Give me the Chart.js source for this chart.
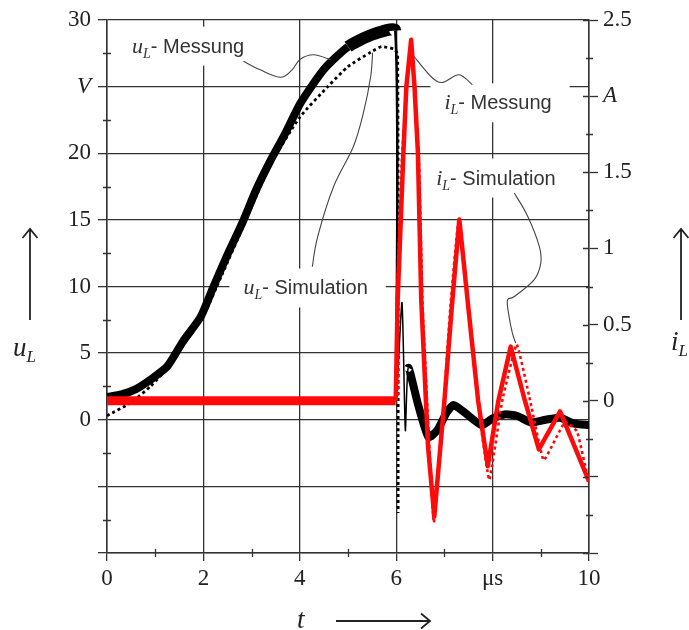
<!DOCTYPE html>
<html><head><meta charset="utf-8">
<script src="https://cdn.jsdelivr.net/npm/chart.js@4.4.1/dist/chart.umd.min.js"></script>
<style>html,body{margin:0;padding:0;background:#fff}canvas{display:block}</style>
</head><body>
<canvas id="c" width="689" height="630"></canvas>
<script>
// ---- data (time in µs) ----
// u_L measured (V, left axis)
const uMeasT = [0, 0.3, 0.6, 0.9, 1.25, 1.58, 1.94, 2.21, 2.5, 2.81, 3.1, 3.4, 3.7, 4.02, 4.5, 5.0, 5.5, 5.98, 6.01, 6.12, 6.19, 6.25, 6.45, 6.67, 6.85, 7.04, 7.19, 7.4, 7.77, 8.0, 8.25, 8.5, 8.8, 9.1, 9.4, 9.7, 10];
const uMeasV = [1.7, 1.9, 2.3, 3.0, 4.0, 5.9, 7.7, 10.0, 12.4, 14.8, 17.3, 19.5, 21.5, 23.8, 26.3, 28.0, 28.9, 29.2, 2.3, 8.8, -0.8, 3.9, 1.2, -1.3, -0.8, 0.5, 1.1, 0.6, -0.4, 0.1, 0.4, 0.3, -0.2, 0.0, 0.15, -0.3, -0.4];
// u_L simulated (V, left axis)
const uSimT = [0, 0.5, 0.9, 1.3, 1.7, 2.0, 2.4, 2.8, 3.4, 4.0, 4.58, 5.0, 5.48, 5.7, 5.96, 6.03, 6.04];
const uSimV = [0.3, 1.3, 2.5, 4.1, 6.2, 7.8, 11.0, 14.3, 19.2, 22.7, 25.0, 26.5, 27.6, 28.0, 27.8, 27.4, -7.0];
// i_L measured (A, right axis)
const iMeasT = [0, 2, 4, 5.99, 6.03, 6.15, 6.21, 6.31, 6.38, 6.45, 6.52, 6.66, 6.79, 7.0, 7.15, 7.31, 7.5, 7.7, 7.9, 8.12, 8.375, 8.67, 8.96, 9.4, 9.7, 10];
const iMeasV = [0, 0, 0, 0, 0.66, 1.63, 2.06, 2.37, 2.06, 1.63, 0.66, -0.3, -0.76, 0.0, 0.6, 1.19, 0.6, 0.0, -0.43, 0.0, 0.355, 0.0, -0.32, -0.07, -0.3, -0.53];
// i_L simulated (A, right axis)
const iSimT = [0, 5.98, 6.0, 6.12, 6.3, 6.47, 6.55, 6.78, 6.97, 7.12, 7.3, 7.52, 7.73, 7.93, 8.2, 8.5, 8.78, 9.06, 9.5, 9.75, 9.95];
const iSimV = [0, 0, 0.5, 1.6, 2.33, 1.6, 0.6, -0.8, -0.1, 0.6, 1.2, 0.55, -0.1, -0.52, 0.0, 0.37, 0.0, -0.39, -0.14, -0.2, -0.47];
// axis ticks
const xTickLabels = {0: '0', 2: '2', 4: '4', 6: '6', 8: 'μs', 10: '10'};
const uTickLabels = {30: '30', 25: 'V', 20: '20', 15: '15', 10: '10', 5: '5', 0: '0'};
const iTickLabels = {2.5: '2.5', 2: 'A', 1.5: '1.5', 1: '1', 0.5: '0.5', 0: '0'};

const zip = (t, v) => t.map((x, k) => ({x: x, y: v[k]}));

const SERIF = '"Liberation Serif", "DejaVu Serif", serif';
const SANS = '"Liberation Sans", Arial, sans-serif';
const INK = '#333';

// annotations (anchored in data units: t in µs, value on left axis in V)
const notes = [
  {sym: 'u', text: '- Messung', t: 0.52, u: 27.55,
   lead: [[2.83, 26.9], [3.18, 26.26], [3.6, 25.7], [3.84, 26.26], [4.01, 27.06], [4.29, 27.39], [4.64, 27.02]]},
  {sym: 'u', text: '- Simulation', t: 2.83, u: 9.4,
   lead: [[4.26, 11.48], [4.37, 13.73], [4.70, 17.49], [5.11, 20.49], [5.32, 23.04], [5.47, 25.74], [5.51, 27.54]]},
  {sym: 'i', text: '- Messung', t: 7.0, u: 23.3,
   lead: [[7.58, 25.14], [7.30, 25.89], [6.96, 25.31], [6.72, 25.76], [6.37, 27.26]]},
  {sym: 'i', text: '- Simulation', t: 6.83, u: 17.65,
   lead: [[8.45, 17.01], [8.73, 15.26], [8.97, 13.0], [9.0, 11.76], [8.86, 10.5], [8.45, 9.25], [8.31, 9.0], [8.33, 8.0], [8.41, 6.5], [8.48, 5.75]]}
];

function noteGeom(ctx, chart, n) {
  const x0 = chart.scales.x.getPixelForValue(n.t);
  const y0 = chart.scales.y.getPixelForValue(n.u);
  ctx.font = 'italic 22px ' + SERIF;
  const w1 = ctx.measureText(n.sym).width;
  ctx.font = 'italic 14px ' + SERIF;
  const w2 = ctx.measureText('L').width;
  ctx.font = '20px ' + SANS;
  const w3 = ctx.measureText(n.text).width;
  return {x0, y0, w1, w2, w3, w: w1 + w2 + w3};
}

function smoothPath(ctx, pts) {
  ctx.moveTo(pts[0][0], pts[0][1]);
  for (let i = 0; i < pts.length - 1; i++) {
    const p0 = pts[Math.max(0, i - 1)], p1 = pts[i], p2 = pts[i + 1], p3 = pts[Math.min(pts.length - 1, i + 2)];
    const c1 = [p1[0] + (p2[0] - p0[0]) / 6, p1[1] + (p2[1] - p0[1]) / 6];
    const c2 = [p2[0] - (p3[0] - p1[0]) / 6, p2[1] - (p3[1] - p1[1]) / 6];
    ctx.bezierCurveTo(c1[0], c1[1], c2[0], c2[1], p2[0], p2[1]);
  }
}

const overlay = {
  id: 'overlay',
  beforeDatasetsDraw(chart) {
    const ctx = chart.ctx;
    ctx.save();
    ctx.fillStyle = '#fff';
    notes.forEach(n => {
      const g = noteGeom(ctx, chart, n);
      ctx.fillRect(g.x0 - 14, g.y0 - 26, g.w + 32, 39);
    });
    ctx.restore();
  },
  afterDatasetsDraw(chart) {
    const ctx = chart.ctx;
    const sx = chart.scales.x, sy = chart.scales.y, sy2 = chart.scales.y2;
    const ca = chart.chartArea;
    ctx.save();
    // leaders + labels
    notes.forEach(n => {
      const pts = n.lead.map(p => [sx.getPixelForValue(p[0]), sy.getPixelForValue(p[1])]);
      ctx.beginPath();
      smoothPath(ctx, pts);
      ctx.strokeStyle = '#444';
      ctx.lineWidth = 1.1;
      ctx.stroke();
      const g = noteGeom(ctx, chart, n);
      ctx.fillStyle = INK;
      ctx.textBaseline = 'alphabetic';
      ctx.textAlign = 'left';
      ctx.font = 'italic 22px ' + SERIF;
      ctx.fillText(n.sym, g.x0, g.y0);
      ctx.font = 'italic 14px ' + SERIF;
      ctx.fillText('L', g.x0 + g.w1, g.y0 + 5);
      ctx.font = '20px ' + SANS;
      ctx.fillText(n.text, g.x0 + g.w1 + g.w2, g.y0);
    });
    // minor ticks
    ctx.strokeStyle = INK;
    ctx.lineWidth = 1.3;
    ctx.beginPath();
    for (let v = -7.5; v < 30; v += 5) {
      const y = Math.round(sy.getPixelForValue(v)) + 0.5;
      ctx.moveTo(ca.left - 4, y); ctx.lineTo(ca.left + 4, y);
    }
    for (let v = -0.75; v < 2.5; v += 0.5) {
      const y = Math.round(sy2.getPixelForValue(v)) + 0.5;
      ctx.moveTo(ca.right - 3, y); ctx.lineTo(ca.right + 4, y);
    }
    for (let v = -1; v <= 2.5; v += 0.5) {
      const y = Math.round(sy2.getPixelForValue(v)) + 0.5;
      ctx.moveTo(ca.right - 6, y); ctx.lineTo(ca.right, y);
    }
    for (let v = 1; v < 10; v += 2) {
      const x = Math.round(sx.getPixelForValue(v)) + 0.5;
      ctx.moveTo(x, ca.bottom - 4); ctx.lineTo(x, ca.bottom + 4);
    }
    ctx.stroke();
    ctx.restore();
  },
  afterDraw(chart) {
    const ctx = chart.ctx;
    ctx.save();
    ctx.fillStyle = '#222';
    ctx.strokeStyle = '#222';
    ctx.lineWidth = 1.8;
    ctx.textBaseline = 'alphabetic';
    // left title
    ctx.font = 'italic 27px ' + SERIF;
    ctx.fillText('u', 13, 356);
    let w = ctx.measureText('u').width;
    ctx.font = 'italic 17px ' + SERIF;
    ctx.fillText('L', 13 + w, 362);
    // right title
    ctx.font = 'italic 27px ' + SERIF;
    ctx.fillText('i', 671, 350);
    w = ctx.measureText('i').width;
    ctx.font = 'italic 17px ' + SERIF;
    ctx.fillText('L', 671 + w, 356);
    // bottom title
    ctx.font = 'italic 27px ' + SERIF;
    ctx.fillText('t', 297, 628);
    // arrows
    ctx.beginPath();
    ctx.moveTo(30, 320); ctx.lineTo(30, 229);
    ctx.moveTo(22.5, 238); ctx.lineTo(30, 229); ctx.lineTo(37.5, 238);
    ctx.moveTo(681, 320); ctx.lineTo(681, 229);
    ctx.moveTo(673.5, 238); ctx.lineTo(681, 229); ctx.lineTo(688.5, 238);
    ctx.moveTo(336, 621); ctx.lineTo(430, 621);
    ctx.moveTo(421, 613.5); ctx.lineTo(430, 621); ctx.lineTo(421, 628.5);
    ctx.stroke();
    ctx.restore();
  }
};

function fixSize(prop, val) {
  return function (scale) {
    scale[prop] = val;
    scale.paddingTop = 0; scale.paddingBottom = 0;
    scale.paddingLeft = 0; scale.paddingRight = 0;
  };
}

const tickFont = (italicVal) => (c) => ({family: SERIF, size: 23, style: (c.tick && c.tick.value === italicVal) ? 'italic' : 'normal'});

new Chart(document.getElementById('c'), {
  type: 'scatter',
  data: {
    datasets: [
      {label: 'i_L Messung', data: zip(iMeasT, iMeasV), yAxisID: 'y2', showLine: true, pointRadius: 0,
       borderColor: '#ff0a0a', borderWidth: 4, tension: 0, borderJoinStyle: 'round',
       segment: {borderWidth: c => c.p0.parsed.x < 5.98 ? 9 : 4.5}},
      {label: 'i_L Simulation', data: zip(iSimT, iSimV), yAxisID: 'y2', showLine: true, pointRadius: 0,
       borderColor: '#ff0a0a', borderWidth: 2.6, borderDash: [3, 3], tension: 0.1},
      {label: 'u_L Simulation', data: zip(uSimT, uSimV), yAxisID: 'y', showLine: true, pointRadius: 0,
       borderColor: '#000', borderWidth: 2.8, borderDash: [3, 3], tension: 0.2},
      {label: 'u_L Messung', data: zip(uMeasT, uMeasV), yAxisID: 'y', showLine: true, pointRadius: 0,
       borderColor: '#000', borderWidth: 8, tension: 0.2, borderJoinStyle: 'round',
       segment: {borderWidth: c => {
         const a = c.p0.parsed.x;
         if (a >= 5.97 && a < 6.0) return 2.5;
         if (a >= 6.0 && a < 6.24) return 1.5;
         if (a >= 4.6 && a < 5.97) return 12;
         return 8;
       }}}
    ]
  },
  options: {
    responsive: false,
    animation: false,
    events: [],
    layout: {padding: {top: 20, left: 0, right: 0, bottom: 0}},
    plugins: {legend: {display: false}, tooltip: {enabled: false}},
    scales: {
      x: {
        type: 'linear', min: 0, max: 10,
        afterFit: fixSize('height', 77),
        ticks: {stepSize: 2, autoSkip: false, maxRotation: 0, padding: 4, color: '#222',
                font: {family: SERIF, size: 23},
                callback: v => xTickLabels[v] !== undefined ? xTickLabels[v] : ''},
        grid: {color: INK, lineWidth: 1.3, tickLength: 8, tickColor: INK, tickWidth: 1.3},
        border: {color: INK, width: 1.5}
      },
      y: {
        type: 'linear', position: 'left', min: -10, max: 30,
        afterFit: fixSize('width', 107),
        ticks: {stepSize: 5, autoSkip: false, padding: 7, color: '#222', font: tickFont(25),
                callback: v => uTickLabels[v] !== undefined ? uTickLabels[v] : ''},
        grid: {color: INK, lineWidth: 1.3, tickLength: 9, tickColor: INK, tickWidth: 1.3},
        border: {color: INK, width: 1.5}
      },
      y2: {
        type: 'linear', position: 'right', min: -1, max: 2.5,
        afterFit: fixSize('width', 100),
        ticks: {stepSize: 0.5, autoSkip: false, padding: 5, color: '#222', font: tickFont(2),
                callback: v => iTickLabels[v] !== undefined ? iTickLabels[v] : ''},
        grid: {drawOnChartArea: false, tickLength: 9, tickColor: INK, tickWidth: 1.3},
        border: {color: INK, width: 1.5}
      }
    }
  },
  plugins: [overlay]
});
</script>
</body></html>
